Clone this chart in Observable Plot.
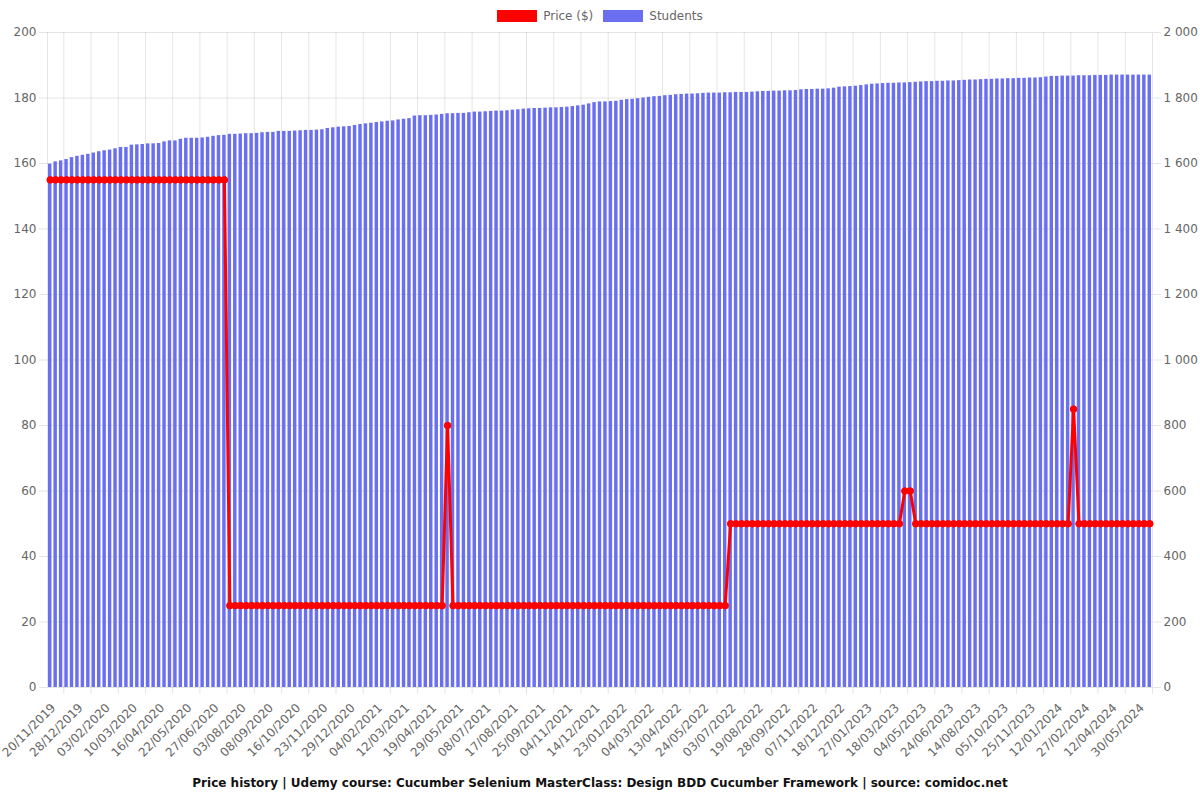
<!DOCTYPE html>
<html>
<head>
<meta charset="utf-8">
<script src="https://cdn.jsdelivr.net/npm/d3@7"></script>
<script src="https://cdn.jsdelivr.net/npm/@observablehq/plot@0.6"></script>
<style>
  html, body { margin: 0; padding: 0; background: #fff; }
  body { width: 1200px; height: 800px; overflow: hidden; font-family: "DejaVu Sans", sans-serif; }
  #legend { height: 26px; box-sizing: border-box; padding-top: 9px; display: flex; justify-content: center; align-items: flex-start; font-size: 12px; color: #666; }
  .item { display: flex; align-items: center; margin: 0 5px; height: 13px; }
  .box { width: 40px; height: 12px; margin-right: 6px; box-sizing: border-box; }
  #chart svg { display: block; }
  #caption { height: 30px; box-sizing: border-box; padding-top: 6px; text-align: center; font-size: 12px; line-height: 14px; font-weight: bold; color: #111; }
</style>
</head>
<body>
<div id="legend"></div>
<div id="chart"></div>
<div id="caption"></div>
<script>
// ---- data ----
const tickLabels = [
  "20/11/2019","28/12/2019","03/02/2020","10/03/2020","16/04/2020","22/05/2020","27/06/2020",
  "03/08/2020","08/09/2020","16/10/2020","23/11/2020","29/12/2020","04/02/2021","12/03/2021",
  "19/04/2021","29/05/2021","08/07/2021","17/08/2021","25/09/2021","04/11/2021","14/12/2021",
  "23/01/2022","04/03/2022","13/04/2022","24/05/2022","03/07/2022","19/08/2022","28/09/2022",
  "07/11/2022","18/12/2022","27/01/2023","18/03/2023","04/05/2023","24/06/2023","14/08/2023",
  "05/10/2023","25/11/2023","12/01/2024","27/02/2024","12/04/2024","30/05/2024"
];
const labelEvery = 5; // one label shown every 5 categories

const students = [
  1598,1605,1608,1612,1618,1622,1625,1628,1632,1636,
  1639,1641,1645,1649,1649,1656,1657,1658,1660,1660,
  1661,1666,1669,1669,1674,1677,1677,1677,1678,1680,
  1683,1685,1686,1689,1689,1690,1691,1691,1692,1694,
  1695,1695,1698,1698,1698,1699,1700,1701,1701,1702,
  1703,1707,1709,1711,1712,1713,1716,1719,1721,1723,
  1725,1727,1729,1730,1733,
  1735,1737,1745,1746,1746,1747,1748,1750,1752,1752,
  1753,1753,1755,1757,1757,1758,1759,1760,1760,1761,
  1763,1764,1766,1767,1768,1768,1769,1770,1770,1771,
  1772,1774,1776,1778,1782,1786,1788,1788,1789,1790,
  1793,1795,1796,1798,1800,1802,1804,1805,1807,1808,
  1810,1811,1812,1812,1813,1814,1815,1815,1815,1816,
  1816,1817,1817,1817,1818,1819,1820,1820,1821,1821,
  1822,1822,1823,1825,1826,1826,1827,1827,1828,1830,
  1833,1834,1835,1836,1838,1840,1842,1843,1844,1845,
  1845,1846,1846,1847,1848,1849,1850,1850,1851,1851,
  1852,1852,1853,1854,1855,1855,1856,1857,1857,1858,
  1858,1859,1859,1860,1860,1861,1861,1862,1864,1866,
  1866,1867,1867,1867,1868,1868,1868,1869,1869,1869,
  1870,1870,1870,1870,1870,1870,1870,1870
];

const price = [
  155,155,155,155,155,155,155,155,155,155,155,155,155,155,155,155,155,155,155,155,
  155,155,155,155,155,155,155,155,155,155,155,155,155,
  25,25,25,25,25,25,25,25,25,25,25,25,25,25,25,25,25,25,25,25,
  25,25,25,25,25,25,25,25,25,25,25,25,25,25,25,25,25,25,25,25,
  80,
  25,25,25,25,25,25,25,25,25,25,25,25,25,25,25,25,25,25,25,25,
  25,25,25,25,25,25,25,25,25,25,25,25,25,25,25,25,25,25,25,25,
  25,25,25,25,25,25,25,25,25,25,25,
  50,50,50,50,50,50,50,50,50,50,50,50,50,50,50,50,50,50,50,50,
  50,50,50,50,50,50,50,50,50,50,50,50,
  60,60,
  50,50,50,50,50,50,50,50,50,50,50,50,50,50,50,50,50,50,50,50,
  50,50,50,50,50,50,50,50,50,
  85,
  50,50,50,50,50,50,50,50,50,50,50,50,50,50
];

const seriesNames = ["Price ($)", "Students"];
const seriesColors = ["#ff0000", "#6a6ff0"];
const titleText = "Price history | Udemy course: Cucumber Selenium MasterClass: Design BDD Cucumber Framework | source: comidoc.net";

// ---- build ----
const N = students.length;
const data = students.map((s, i) => ({i, students: s, price: price[i]}));
const labelIdx = tickLabels.map((_, k) => k * labelEvery);
const gridIdx = [...labelIdx.slice(0, -1).map(v => v + labelEvery / 2), N - 0.5];
const fmt = d3.formatLocale({decimal: ".", thousands: "\u00a0", grouping: [3], currency: ["", ""]}).format(",");
const gridColor = "rgba(0,0,0,0.1)";

// legend
const legend = document.getElementById("legend");
seriesNames.forEach((name, k) => {
  const it = document.createElement("div");
  it.className = "item";
  const b = document.createElement("span");
  b.className = "box";
  b.style.background = seriesColors[k];
  const t = document.createElement("span");
  t.textContent = name;
  it.append(b, t);
  legend.append(it);
});
document.getElementById("caption").textContent = titleText;

const chart = Plot.plot({
  width: 1200,
  height: 744,
  marginTop: 6,
  marginBottom: 83,
  marginLeft: 47,
  marginRight: 48,
  style: {fontFamily: "DejaVu Sans, sans-serif", fontSize: "12px", color: "#666", background: "#fff"},
  x: {type: "linear", domain: [-0.5, N - 0.5], axis: null},
  y: {domain: [0, 200], axis: null},
  marks: [
    Plot.gridY({ticks: 10, stroke: gridColor, strokeOpacity: 1}),
    Plot.ruleX([-0.5, ...gridIdx], {stroke: gridColor}),
    Plot.rectY(data, {x1: d => d.i - 0.5, x2: d => d.i + 0.5, y: d => d.students / 10, insetLeft: 1.0, insetRight: 1.0, fill: seriesColors[1]}),
    Plot.line(data, {x: "i", y: "price", stroke: seriesColors[0], strokeWidth: 3}),
    Plot.dot(data, {x: "i", y: "price", r: 3.3, fill: seriesColors[0], stroke: seriesColors[0], strokeWidth: 1}),
    Plot.axisY({anchor: "left", label: null, ticks: 10, tickSize: 8, tickPadding: 3, stroke: gridColor, fill: "#666"}),
    Plot.axisY({anchor: "right", label: null, ticks: 10, tickSize: 8, tickPadding: 3, stroke: gridColor, fill: "#666", tickFormat: d => fmt(d * 10)}),
    Plot.axisX({anchor: "bottom", label: null, ticks: gridIdx, tickSize: 7, tickFormat: () => "", stroke: gridColor}),
    Plot.text(labelIdx, {x: d => d, frameAnchor: "bottom", text: d => tickLabels[d / labelEvery], rotate: -45, textAnchor: "end", dx: 6, dy: 21, fill: "#666"})
  ]
});
document.getElementById("chart").append(chart);
</script>
</body>
</html>
